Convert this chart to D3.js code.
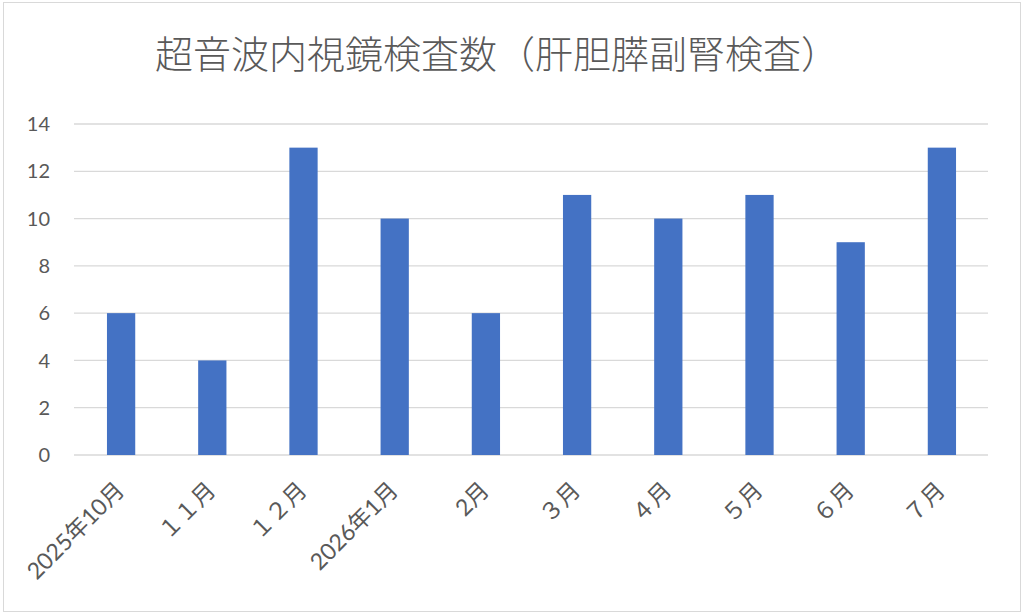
<!DOCTYPE html>
<html>
<head>
<meta charset="utf-8">
<script src="https://cdn.jsdelivr.net/npm/d3@7"></script>
<style>
  body { margin: 0; background: #fff; }
  svg { display: block; }
  text { font-family: "Lato", "Noto Sans CJK JP", sans-serif; fill: #595959; }
</style>
</head>
<body>
<svg width="1024" height="615"></svg>
<script>
const months = ["2025年10月", "１１月", "１２月", "2026年1月", "2月", "３月", "４月", "５月", "６月", "７月"];
const counts = [6, 4, 13, 10, 6, 11, 10, 11, 9, 13];
const yTicks = [0, 2, 4, 6, 8, 10, 12, 14];
const title = "超音波内視鏡検査数（肝胆膵副腎検査）";

const svg = d3.select('svg');

svg.append('rect')
    .attr('x', 3.5).attr('y', 2.5)
    .attr('width', 1017).attr('height', 609)
    .attr('fill', '#fff')
    .attr('stroke', '#d9d9d9');

const xScale = d3.scaleBand()
    .domain(months)
    .range([75.5, 987.5])
    .paddingInner(0.69)
    .paddingOuter(0.345);

const yScale = d3.scaleLinear()
    .domain([0, 14])
    .range([455, 124]);

// gridlines
svg.append('g')
    .selectAll('line')
    .data(yTicks)
    .enter()
    .append('line')
    .attr('x1', 74)
    .attr('x2', 988)
    .attr('y1', d => yScale(d))
    .attr('y2', d => yScale(d))
    .attr('stroke', '#d9d9d9')
    .attr('stroke-width', 1.3);

// y labels
svg.append('g')
    .selectAll('text')
    .data(yTicks)
    .enter()
    .append('text')
    .attr('x', 50)
    .attr('y', d => yScale(d))
    .attr('dy', '0.36em')
    .attr('text-anchor', 'end')
    .style('font-size', '20px')
    .text(d => d);

// bars
svg.append('g')
    .selectAll('.bar')
    .data(counts)
    .enter()
    .append('rect')
    .classed('bar', true)
    .attr('x', (d, i) => xScale(months[i]))
    .attr('width', xScale.bandwidth())
    .attr('y', d => yScale(d))
    .attr('height', d => yScale(0) - yScale(d))
    .attr('fill', '#4472c4');

// x labels
svg.append('g')
    .selectAll('text')
    .data(months)
    .enter()
    .append('text')
    .attr('transform', d => `translate(${xScale(d) + xScale.bandwidth() / 2 - 1},${486}) rotate(-45)`)
    .attr('text-anchor', 'end')
    .attr('dy', '0.35em')
    .style('font-size', '23px')
    .text(d => d);

svg.append('text')
    .attr('x', 497)
    .attr('y', 55)
    .attr('text-anchor', 'middle')
    .attr('dy', '0.35em')
    .style('font-size', '38px')
    .style('font-family', '"Noto Sans CJK JP", sans-serif')
    .style('font-weight', 300)
    .text(title);
</script>
</body>
</html>
